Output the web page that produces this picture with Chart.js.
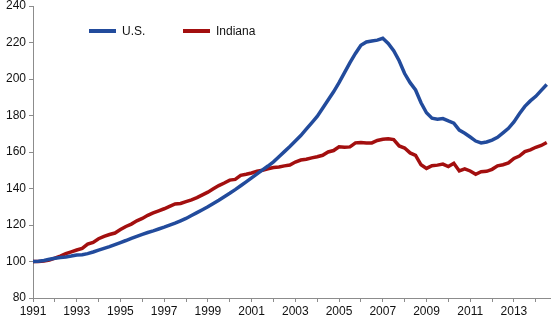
<!DOCTYPE html>
<html>
<head>
<meta charset="utf-8">
<script src="https://cdn.jsdelivr.net/npm/chart.js@4"></script>
<style>
  html, body { margin: 0; padding: 0; background: #fff; }
  #wrap { position: relative; width: 551px; height: 322px; }
  .key { position: absolute; font: 12px "Liberation Sans", Arial, sans-serif; color: #111; line-height: 14px; white-space: nowrap; }
  .key i { display: inline-block; width: 27px; height: 4px; vertical-align: middle; margin-right: 6px; position: relative; top: -1px; }
</style>
</head>
<body>
<div id="wrap">
  <canvas id="chart" width="551" height="322"></canvas>
  <div id="legend"></div>
</div>
<script>
  // quarterly house price index, 1991Q1 = 100, from 1991Q1 to 2014Q3
  const startYear = 1991;
  const usValues = [
    100.0, 100.2, 100.6, 101.2,
    101.8, 102.2, 102.5, 103.0,
    103.6, 103.7, 104.3, 105.2,
    106.2, 107.2, 108.2, 109.3,
    110.4, 111.5, 112.7, 113.8,
    114.9, 115.9, 116.8, 117.8,
    118.8, 119.9, 121.0, 122.3,
    123.6, 125.2, 126.8, 128.4,
    130.0, 131.8, 133.6, 135.5,
    137.4, 139.4, 141.5, 143.6,
    145.8, 148.0, 150.2, 152.3,
    154.6, 157.4, 160.2, 163.0,
    166.0, 169.0, 172.5, 176.0,
    179.5, 184.0, 188.5, 193.0,
    198.0, 203.5, 209.0, 214.0,
    218.5, 220.3, 220.8, 221.3,
    222.3, 219.5, 215.5, 210.0,
    203.0, 198.0, 194.0, 187.0,
    181.5, 178.5, 178.0, 178.3,
    177.0, 175.8, 172.0, 170.3,
    168.2, 166.0, 165.0, 165.5,
    166.5, 168.0, 170.5, 173.0,
    176.5, 181.0, 185.0, 188.0,
    190.5, 193.8, 197.0
  ];
  const indianaValues = [
    100.0, 100.0, 100.2, 100.8,
    101.8, 103.0, 104.3, 105.3,
    106.3, 107.2, 109.5, 110.5,
    112.5, 113.8, 114.8, 115.6,
    117.5, 119.2, 120.5, 122.3,
    123.6, 125.3, 126.6, 127.8,
    128.9, 130.2, 131.5, 131.8,
    132.8, 133.8, 135.0, 136.5,
    138.0, 139.8, 141.6, 143.0,
    144.6, 145.0, 147.2, 147.8,
    148.5, 149.5, 150.0, 150.8,
    151.5, 151.8, 152.4, 152.9,
    154.5, 155.6, 156.0, 156.8,
    157.4, 158.2, 160.0, 160.8,
    162.9, 162.6, 162.8, 165.0,
    165.2, 165.0, 165.0, 166.3,
    167.0, 167.2, 166.8, 163.3,
    162.2, 159.5, 158.2, 153.0,
    151.0, 152.5, 152.8, 153.4,
    152.0, 153.8, 149.6, 150.8,
    149.6, 147.8, 149.2, 149.4,
    150.5, 152.4, 153.0, 154.0,
    156.5, 157.8, 160.2, 161.2,
    162.6, 163.6, 165.2
  ];
  const yTicks = [80, 100, 120, 140, 160, 180, 200, 220, 240];
  const xLabelYears = [1991, 1993, 1995, 1997, 1999, 2001, 2003, 2005, 2007, 2009, 2011, 2013];

  const series = [
    { label: "U.S.", values: usValues, color: "#224b9c" },
    { label: "Indiana", values: indianaValues, color: "#a30f0f" }
  ];

  const toPoints = vals => vals.map((v, i) => ({ x: startYear + i / 4, y: v }));
  const axisColor = "#8c8c8c";
  const tickFont = { family: "'Liberation Sans', Arial, sans-serif", size: 12 };

  new Chart(document.getElementById("chart"), {
    type: "line",
    data: {
      datasets: series.map(s => ({
        label: s.label,
        data: toPoints(s.values),
        borderColor: s.color,
        backgroundColor: s.color,
        borderWidth: 3.5,
        pointRadius: 0,
        tension: 0,
        fill: false,
      })),
    },
    options: {
      responsive: false,
      animation: false,
      layout: { padding: { top: 0, right: 1, left: 0, bottom: 0 } },
      plugins: { legend: { display: false }, tooltip: { enabled: false } },
      scales: {
        x: {
          type: "linear",
          min: startYear,
          max: 2014.65,
          afterBuildTicks: axis => {
            axis.ticks = [];
            for (let yr = startYear; yr <= 2014; yr++) axis.ticks.push({ value: yr });
          },
          afterFit: axis => { axis.height = 24; },
          ticks: {
            autoSkip: false,
            maxRotation: 0,
            padding: 2,
            color: "#111",
            font: tickFont,
            callback: v => (xLabelYears.includes(v) ? String(v) : ""),
          },
          grid: { drawOnChartArea: false, drawTicks: true, tickLength: 4, color: axisColor },
          border: { color: axisColor, width: 1 },
        },
        y: {
          min: 80,
          max: 240,
          afterBuildTicks: axis => { axis.ticks = yTicks.map(v => ({ value: v })); },
          afterFit: axis => {
            axis.width = 33;
            axis.paddingTop = 6;
            axis.paddingBottom = 0;
          },
          ticks: { padding: 3, color: "#111", font: tickFont },
          grid: { drawOnChartArea: false, drawTicks: true, tickLength: 4, color: axisColor },
          border: { color: axisColor, width: 1 },
        },
      },
    },
  });

  // legend inside the plot, near the top
  const legendPos = [{ left: 89, top: 24 }, { left: 183, top: 24 }];
  const legend = document.getElementById("legend");
  series.forEach((s, i) => {
    const el = document.createElement("div");
    el.className = "key";
    el.style.left = legendPos[i].left + "px";
    el.style.top = legendPos[i].top + "px";
    el.innerHTML = '<i style="background:' + s.color + '"></i>' + s.label;
    legend.appendChild(el);
  });
</script>
</body>
</html>
